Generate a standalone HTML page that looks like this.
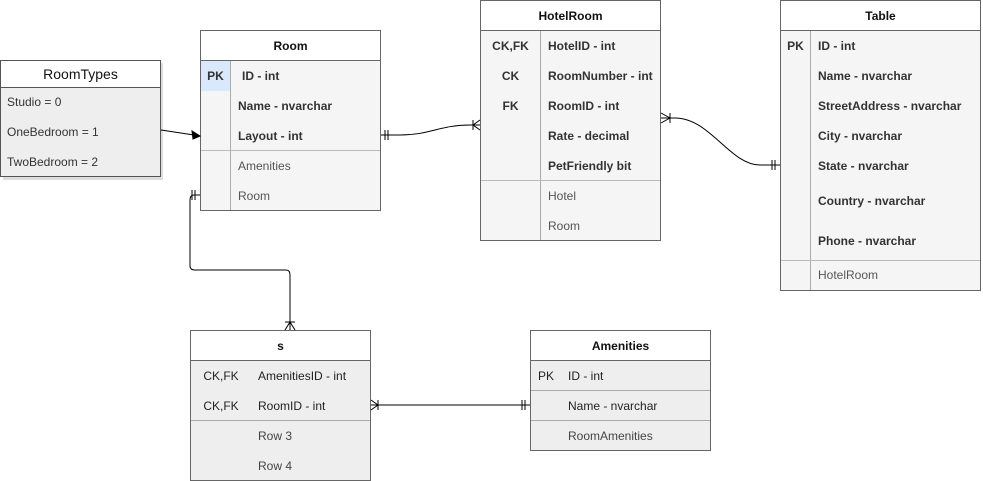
<!DOCTYPE html>
<html><head><meta charset="utf-8"><style>
body{margin:0;width:983px;height:481px;background:#fff;position:relative;overflow:hidden;font-family:"Liberation Sans",Arial,sans-serif;font-size:12px;color:#333}
.t{position:absolute;border:1px solid #000;box-sizing:border-box;background:#fff}
.h{position:absolute;left:0;right:0;top:0;height:30px;line-height:30px;text-align:center;font-weight:bold;color:#111;border-bottom:1px solid #999;box-sizing:border-box}
.r{position:absolute;left:0;right:0;box-sizing:border-box}
.k{position:absolute;left:0;top:0;bottom:0;text-align:center;box-sizing:border-box}
.v{position:absolute;top:0;bottom:0;white-space:nowrap}
.b{font-weight:bold}
</style></head><body>

<div style="position:absolute;left:3px;top:63px;width:160px;height:117px;background:#ddd"></div>
<div class="t" style="left:0;top:60px;width:161px;height:117px;background:#eee;border-color:#555">
<div class="h" style="height:27px;line-height:27px;font-weight:normal;font-size:14px;background:#fff;border-bottom:1px solid #555">RoomTypes</div>
<div class="r" style="top:27px;height:30px;line-height:28px;padding-left:6px">Studio = 0</div>
<div class="r" style="top:57px;height:30px;line-height:28px;padding-left:6px">OneBedroom = 1</div>
<div class="r" style="top:87px;height:29px;line-height:28px;padding-left:6px">TwoBedroom = 2</div>
</div>

<div class="t" style="left:200px;top:30px;width:181px;height:181px;background:#f5f5f5;border-color:#666">
<div class="h" style="background:#fff;border-color:#666">Room</div>
<div style="position:absolute;left:29px;top:30px;bottom:0;border-left:1px solid #aaa"></div>
<div class="r" style="top:30px;height:30px;line-height:30px"><div class="k b" style="width:29px;background:#dae8fc">PK</div><div class="v b" style="left:41px">ID - int</div></div>
<div class="r" style="top:60px;height:30px;line-height:30px"><div class="v b" style="left:37px">Name - nvarchar</div></div>
<div class="r" style="top:90px;height:30px;line-height:30px"><div class="v b" style="left:37px">Layout - int</div></div>
<div style="position:absolute;left:0;right:0;top:119px;border-top:1px solid #bbb"></div>
<div class="r" style="top:120px;height:30px;line-height:30px"><div class="v" style="left:37px;color:#555">Amenities</div></div>
<div class="r" style="top:150px;height:30px;line-height:30px"><div class="v" style="left:37px;color:#555">Room</div></div>
</div>

<div class="t" style="left:480px;top:0;width:181px;height:241px;background:#f5f5f5;border-color:#666">
<div class="h" style="background:#fff;border-color:#666">HotelRoom</div>
<div style="position:absolute;left:59px;top:30px;bottom:0;border-left:1px solid #aaa"></div>
<div class="r" style="top:30px;height:30px;line-height:30px"><div class="k b" style="width:59px">CK,FK</div><div class="v b" style="left:67px">HotelID - int</div></div>
<div class="r" style="top:60px;height:30px;line-height:30px"><div class="k b" style="width:59px">CK</div><div class="v b" style="left:67px">RoomNumber - int</div></div>
<div class="r" style="top:90px;height:30px;line-height:30px"><div class="k b" style="width:59px">FK</div><div class="v b" style="left:67px">RoomID - int</div></div>
<div class="r" style="top:120px;height:30px;line-height:30px"><div class="v b" style="left:67px">Rate - decimal</div></div>
<div class="r" style="top:150px;height:30px;line-height:30px"><div class="v b" style="left:67px">PetFriendly bit</div></div>
<div style="position:absolute;left:0;right:0;top:179px;border-top:1px solid #bbb"></div>
<div class="r" style="top:180px;height:30px;line-height:30px"><div class="v" style="left:67px;color:#555">Hotel</div></div>
<div class="r" style="top:210px;height:30px;line-height:30px"><div class="v" style="left:67px;color:#555">Room</div></div>
</div>

<div class="t" style="left:780px;top:0;width:201px;height:291px;background:#f5f5f5;border-color:#666">
<div class="h" style="background:#fff;border-color:#666">Table</div>
<div style="position:absolute;left:29px;top:30px;bottom:0;border-left:1px solid #aaa"></div>
<div class="r" style="top:30px;height:30px;line-height:30px"><div class="k b" style="width:29px">PK</div><div class="v b" style="left:37px">ID - int</div></div>
<div class="r" style="top:60px;height:30px;line-height:30px"><div class="v b" style="left:37px">Name - nvarchar</div></div>
<div class="r" style="top:90px;height:30px;line-height:30px"><div class="v b" style="left:37px">StreetAddress - nvarchar</div></div>
<div class="r" style="top:120px;height:30px;line-height:30px"><div class="v b" style="left:37px">City - nvarchar</div></div>
<div class="r" style="top:150px;height:30px;line-height:30px"><div class="v b" style="left:37px">State - nvarchar</div></div>
<div class="r" style="top:180px;height:40px;line-height:40px"><div class="v b" style="left:37px">Country - nvarchar</div></div>
<div class="r" style="top:220px;height:40px;line-height:40px"><div class="v b" style="left:37px">Phone - nvarchar</div></div>
<div style="position:absolute;left:0;right:0;top:259px;border-top:1px solid #bbb"></div>
<div class="r" style="top:259px;height:30px;line-height:30px"><div class="v" style="left:37px;color:#555">HotelRoom</div></div>
</div>

<div class="t" style="left:190px;top:330px;width:181px;height:151px;background:#eee;border-color:#666;color:#222">
<div class="h" style="background:#fff;border-color:#666">s</div>
<div class="r" style="top:30px;height:30px;line-height:30px"><div class="k" style="width:60px">CK,FK</div><div class="v" style="left:67px">AmenitiesID - int</div></div>
<div class="r" style="top:60px;height:30px;line-height:30px"><div class="k" style="width:60px">CK,FK</div><div class="v" style="left:67px">RoomID - int</div></div>
<div style="position:absolute;left:0;right:0;top:89px;border-top:1px solid #aaa"></div>
<div class="r" style="top:90px;height:30px;line-height:30px"><div class="v" style="left:67px;color:#444">Row 3</div></div>
<div class="r" style="top:120px;height:30px;line-height:30px"><div class="v" style="left:67px;color:#444">Row 4</div></div>
</div>

<div class="t" style="left:530px;top:330px;width:181px;height:121px;background:#eee;border-color:#666;color:#222">
<div class="h" style="background:#fff;border-color:#666">Amenities</div>
<div class="r" style="top:30px;height:30px;line-height:30px"><div class="k" style="width:30px">PK</div><div class="v" style="left:37px">ID - int</div></div>
<div style="position:absolute;left:0;right:0;top:59px;border-top:1px solid #aaa"></div>
<div class="r" style="top:60px;height:30px;line-height:30px"><div class="v" style="left:37px">Name - nvarchar</div></div>
<div style="position:absolute;left:0;right:0;top:89px;border-top:1px solid #aaa"></div>
<div class="r" style="top:90px;height:30px;line-height:30px"><div class="v" style="left:37px;color:#444">RoomAmenities</div></div>
</div>

<svg width="983" height="481" style="position:absolute;left:0;top:0" fill="none" stroke="#000" stroke-width="1">
<path d="M161 130 L194 135"/><path d="M200 136 L192 131 L193 139 Z" fill="#000"/>
<path d="M381 135 L400 135 C430 135 440 125 470 125 L480 125"/>
<path d="M385 130 V140 M388 130 V140"/>
<path d="M473 120 V130 M480 120 L473 125 L480 130"/>
<path d="M661 118 L675 118 C710 118 730 165 760 165 L780 165"/>
<path d="M670 113 V123 M661 113 L670 118 L661 123"/>
<path d="M772 160 V170 M775 160 V170"/>
<path d="M200 195 L194 195 Q190 195 190 200 L190 266 Q190 270 195 270 L286 270 Q290 270 290 275 L290 330"/>
<path d="M192 190 V200 M195 190 V200"/>
<path d="M285 322 H295 M285 330 L290 322 L295 330"/>
<path d="M371 405 H530"/>
<path d="M378 400 V410 M371 400 L378 405 L371 410"/>
<path d="M522 400 V410 M525 400 V410"/>
</svg>
</body></html>
